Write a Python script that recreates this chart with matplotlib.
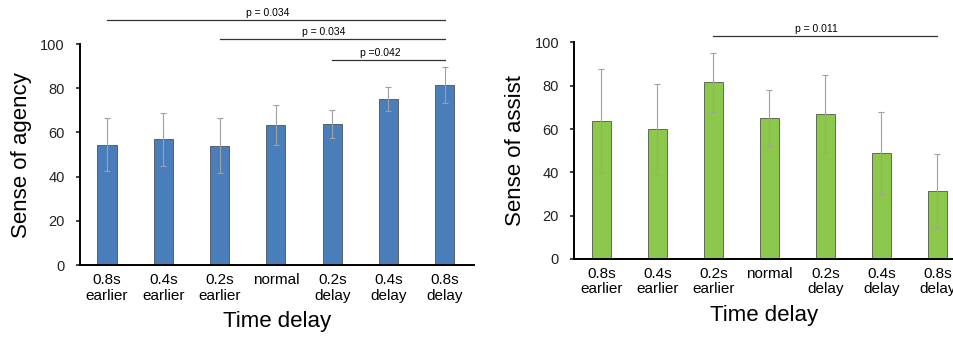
import numpy as np
import matplotlib
matplotlib.use('Agg')
import matplotlib.pyplot as plt

plt.rcParams['font.family'] = ['Liberation Sans', 'DejaVu Sans']

# categorias del eje x
labels = ['0.8s\nearlier', '0.4s\nearlier', '0.2s\nearlier', 'normal',
          '0.2s\ndelay', '0.4s\ndelay', '0.8s\ndelay']

# sense of agency (izquierda)
agency = [54.5, 57, 54, 63.5, 63.8, 75, 81.5]
agency_err = [12, 12, 12.5, 9, 6.5, 5.5, 8]
agency_sig = [(0, 6, 'p = 0.034'), (2, 6, 'p = 0.034'), (4, 6, 'p =0.042')]
agency_sig_y = [111, 102.5, 93]

# sense of assist (derecha)
assist = [63.5, 60, 81.5, 65, 67, 49, 31.5]
assist_err = [24, 21, 13.5, 13, 18, 19, 17]
assist_sig = [(2, 6, 'p = 0.011')]
assist_sig_y = [103]

x = np.arange(len(labels))

fig = plt.figure(figsize=(9.54, 3.39), dpi=100)
ax1 = fig.add_axes([0.0839, 0.218, 0.413, 0.652])
ax2 = fig.add_axes([0.602, 0.236, 0.398, 0.639])


def draw(ax, vals, errs, color, ylabel, sigs, sig_y, xmax):
    ax.bar(x, vals, width=0.34, color=color, edgecolor='#3a3a3a', linewidth=0.5)
    ax.errorbar(x, vals, yerr=errs, fmt='none', ecolor='#a0a0a0',
                elinewidth=0.8, capsize=2.5, capthick=0.8)
    ax.set_ylim(0, 100)
    ax.set_xlim(-0.48, xmax)
    ax.set_yticks(range(0, 101, 20))
    ax.set_xticks(x)
    ax.set_xticklabels(labels, fontsize=11, linespacing=1.1)
    ax.tick_params(axis='x', length=0, pad=6)
    ax.tick_params(axis='y', length=3, width=1.2, labelsize=10.5, pad=8,
                   colors='#222222')
    for s in ['top', 'right']:
        ax.spines[s].set_visible(False)
    for s in ['left', 'bottom']:
        ax.spines[s].set_linewidth(1.4)
    ax.set_ylabel(ylabel, fontsize=16, labelpad=6)
    ax.set_xlabel('Time delay', fontsize=16, labelpad=6)
    for (a, b, txt), yy in zip(sigs, sig_y):
        ax.plot([a, b], [yy, yy], color='#333333', lw=0.9, clip_on=False)
        ax.text((a + b) / 2 - 0.15, yy + 0.8, txt, ha='center', va='bottom',
                fontsize=7.5, clip_on=False)


draw(ax1, agency, agency_err, '#4a7ebb', 'Sense of agency', agency_sig,
     agency_sig_y, 6.52)
draw(ax2, assist, assist_err, '#8cc84b', 'Sense of assist', assist_sig,
     assist_sig_y, 6.3)

plt.savefig('out.png', dpi=100)
